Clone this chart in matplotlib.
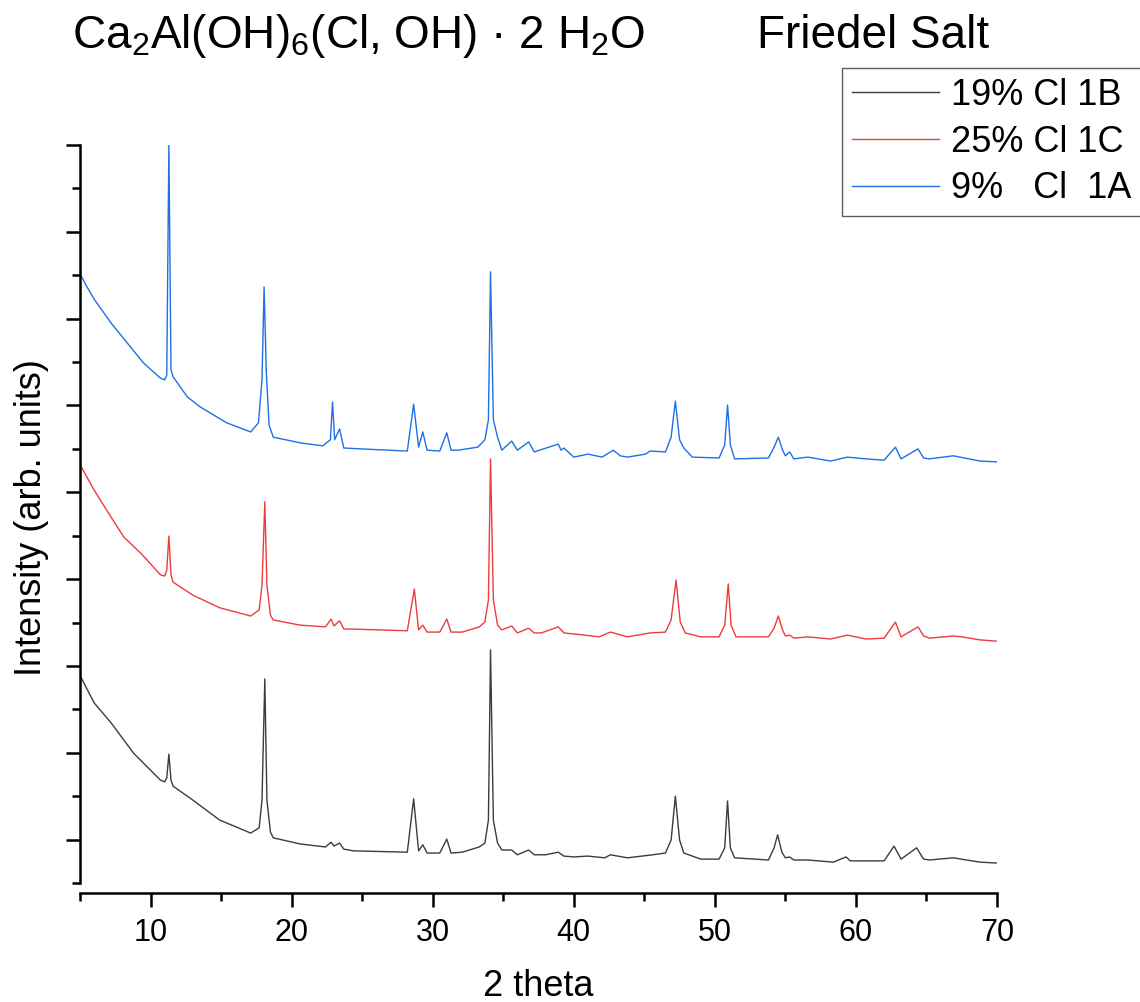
import matplotlib
matplotlib.use("Agg")
import matplotlib.pyplot as plt

plt.rcParams['font.family'] = ['Liberation Sans', 'DejaVu Sans']
plt.rcParams['mathtext.default'] = 'regular'

# 2 theta positions and offset intensities (arb. units)
black_tt = [5.05, 6.0, 7.2, 8.8, 10.7, 11.0, 11.15, 11.3, 11.45, 11.6,
            13.0, 14.9, 17.1, 17.7, 17.9, 18.1, 18.25, 18.5, 18.7, 20.6,
            22.4, 22.8, 23.0, 23.4, 23.7, 24.4, 28.2, 28.65, 29.0, 29.3,
            29.6, 30.5, 31.0, 31.3, 32.1, 33.3, 33.7, 33.95, 34.1, 34.3,
            34.6, 34.9, 35.6, 36.0, 36.8, 37.2, 38.0, 38.9, 39.3, 40.0,
            41.0, 42.2, 42.6, 43.8, 45.6, 46.5, 46.9, 47.2, 47.5, 47.8,
            49.0, 50.3, 50.7, 50.9, 51.1, 51.4, 53.8, 54.2, 54.45, 54.75,
            55.0, 55.3, 55.6, 56.6, 58.4, 59.3, 59.6, 60.7, 62.0, 62.7,
            63.2, 64.3, 64.8, 65.2, 66.9, 68.8, 70.0]
black_int = [4.75, 4.15, 3.69, 2.99, 2.37, 2.33, 2.42, 2.97, 2.37, 2.23,
             1.91, 1.45, 1.15, 1.27, 1.91, 4.70, 1.91, 1.17, 1.04, 0.90,
             0.83, 0.94, 0.85, 0.92, 0.78, 0.74, 0.71, 1.94, 0.74, 0.88,
             0.69, 0.69, 1.01, 0.69, 0.71, 0.83, 0.92, 1.45, 5.37, 1.45,
             0.92, 0.76, 0.76, 0.65, 0.76, 0.65, 0.65, 0.71, 0.62, 0.60,
             0.62, 0.58, 0.65, 0.58, 0.65, 0.69, 0.99, 2.00, 0.99, 0.69,
             0.55, 0.55, 0.81, 1.89, 0.81, 0.58, 0.53, 0.81, 1.11, 0.71,
             0.58, 0.60, 0.53, 0.53, 0.48, 0.60, 0.51, 0.51, 0.51, 0.85,
             0.55, 0.81, 0.55, 0.53, 0.58, 0.48, 0.46]

red_tt = [5.05, 6.0, 7.2, 8.1, 9.3, 10.7, 11.0, 11.15, 11.3, 11.45,
          11.6, 13.0, 14.9, 17.1, 17.7, 17.9, 18.1, 18.25, 18.5, 18.7,
          20.6, 22.4, 22.8, 23.0, 23.4, 23.7, 24.2, 28.2, 28.7, 29.0,
          29.3, 29.6, 30.5, 31.0, 31.3, 32.1, 33.3, 33.7, 33.95, 34.1,
          34.3, 34.6, 34.9, 35.6, 36.0, 36.8, 37.2, 37.7, 38.9, 39.3,
          40.8, 41.8, 42.6, 43.8, 45.4, 46.5, 46.9, 47.25, 47.55, 47.9,
          49.0, 50.3, 50.7, 50.95, 51.15, 51.5, 53.8, 54.2, 54.5, 54.8,
          55.0, 55.3, 55.6, 56.6, 58.2, 59.4, 60.7, 62.0, 62.8, 63.2,
          64.4, 64.8, 65.2, 66.9, 67.5, 68.8, 70.0]
red_int = [9.61, 9.05, 8.43, 7.97, 7.60, 7.10, 7.07, 7.21, 7.99, 7.10,
           6.93, 6.63, 6.34, 6.15, 6.29, 6.86, 8.78, 6.86, 6.17, 6.06,
           5.94, 5.90, 6.08, 5.92, 6.04, 5.85, 5.85, 5.81, 6.77, 5.83,
           5.94, 5.78, 5.78, 6.08, 5.78, 5.78, 5.90, 6.01, 6.52, 9.77,
           6.52, 5.94, 5.83, 5.92, 5.76, 5.87, 5.76, 5.76, 5.90, 5.76,
           5.71, 5.67, 5.78, 5.67, 5.76, 5.78, 6.06, 6.98, 6.01, 5.76,
           5.67, 5.67, 5.94, 6.89, 5.94, 5.67, 5.67, 5.87, 6.15, 5.83,
           5.69, 5.71, 5.64, 5.67, 5.62, 5.71, 5.62, 5.64, 6.01, 5.67,
           5.90, 5.69, 5.64, 5.69, 5.67, 5.60, 5.57]

blue_tt = [5.0, 5.5, 6.0, 7.2, 8.35, 9.5, 10.7, 11.0, 11.15, 11.3,
           11.45, 11.6, 12.6, 13.5, 15.4, 17.1, 17.65, 17.9, 18.05, 18.2,
           18.4, 18.7, 20.6, 22.2, 22.75, 22.9, 23.05, 23.4, 23.7, 24.9,
           28.2, 28.65, 29.0, 29.3, 29.6, 30.5, 31.0, 31.3, 31.8, 33.2,
           33.7, 33.95, 34.1, 34.3, 34.6, 34.9, 35.6, 36.0, 36.8, 37.2,
           38.9, 39.1, 39.3, 40.0, 41.0, 42.0, 42.8, 43.3, 43.8, 45.1,
           45.4, 46.5, 46.9, 47.2, 47.5, 47.8, 48.4, 50.3, 50.7, 50.9,
           51.1, 51.4, 53.8, 54.2, 54.5, 54.8, 55.0, 55.3, 55.6, 56.6,
           58.2, 59.4, 60.7, 62.0, 62.8, 63.2, 64.4, 64.8, 65.2, 66.9,
           68.8, 70.0]
blue_int = [14.03, 13.73, 13.45, 12.90, 12.44, 11.98, 11.63, 11.59, 11.70, 17.00,
            11.82, 11.66, 11.20, 10.97, 10.60, 10.39, 10.60, 11.59, 13.73, 11.82,
            10.55, 10.27, 10.14, 10.07, 10.21, 11.08, 10.21, 10.46, 10.02, 10.00,
            9.95, 11.03, 10.04, 10.39, 9.97, 9.95, 10.37, 9.97, 9.97, 10.04,
            10.21, 10.67, 14.08, 10.67, 10.27, 9.97, 10.18, 9.97, 10.16, 9.93,
            10.11, 9.97, 10.02, 9.81, 9.88, 9.81, 9.97, 9.84, 9.81, 9.88,
            9.95, 9.93, 10.27, 11.10, 10.21, 10.02, 9.81, 9.79, 10.09, 11.01,
            10.09, 9.77, 9.79, 10.04, 10.27, 9.97, 9.84, 9.93, 9.77, 9.81,
            9.72, 9.81, 9.77, 9.74, 10.04, 9.77, 10.00, 9.79, 9.77, 9.84,
            9.72, 9.70]

labels = ['19% Cl 1B', '25% Cl 1C', '9%   Cl  1A']
colors = ['#3c3c3c', '#ee3b3b', '#1f6fe6']
x_ticks = [10, 20, 30, 40, 50, 60, 70]

fig = plt.figure(figsize=(11.4, 10.02), dpi=100)
ax = fig.add_axes([80 / 1140, 119 / 1002, 917 / 1140, 738 / 1002])

ax.plot(black_tt, black_int, color=colors[0], lw=1.0, label=labels[0])
ax.plot(red_tt, red_int, color=colors[1], lw=1.0, label=labels[1])
ax.plot(blue_tt, blue_int, color=colors[2], lw=1.0, label=labels[2])

ax.set_xlim(5, 70)
ax.set_ylim(0, 17)

for s in ['top', 'right']:
    ax.spines[s].set_visible(False)
for s in ['left', 'bottom']:
    ax.spines[s].set_linewidth(1.8)
ax.spines['bottom'].set_position(('outward', 7))

ax.set_xticks(x_ticks)
ax.set_xticks([5, 15, 25, 35, 45, 55, 65], minor=True)
ax.set_yticks(range(1, 18, 2))
ax.set_yticks(range(0, 17, 2), minor=True)
ax.set_yticklabels([])
ax.tick_params(which='major', length=10, width=1.8, direction='out')
ax.tick_params(which='minor', length=5.5, width=1.8, direction='out')
ax.tick_params(axis='x', labelsize=22, pad=8)

fig.text(0.472, 0.006, '2 theta', fontsize=26, ha='center', va='baseline')
fig.text(0.028, 0.483, 'Intensity (arb. units)', fontsize=26, rotation=90,
         ha='center', va='center')

fig.text(72 / 1140, 0.952, r'Ca$_2$Al(OH)$_6$(Cl, OH) · 2 H$_2$O', fontsize=33,
         ha='left', va='baseline')
fig.text(757 / 1140, 0.952, 'Friedel Salt', fontsize=33, ha='left', va='baseline')

leg = fig.legend(loc='upper left', bbox_to_anchor=(842 / 1140, 1 - 68 / 1002),
                 fontsize=26, frameon=True, fancybox=False, borderpad=0.28,
                 labelspacing=0.32, handlelength=2.4, handletextpad=0.35,
                 borderaxespad=0)
leg.get_frame().set_edgecolor('#333333')
leg.get_frame().set_linewidth(1.0)

fig.savefig('out.png', dpi=100)
